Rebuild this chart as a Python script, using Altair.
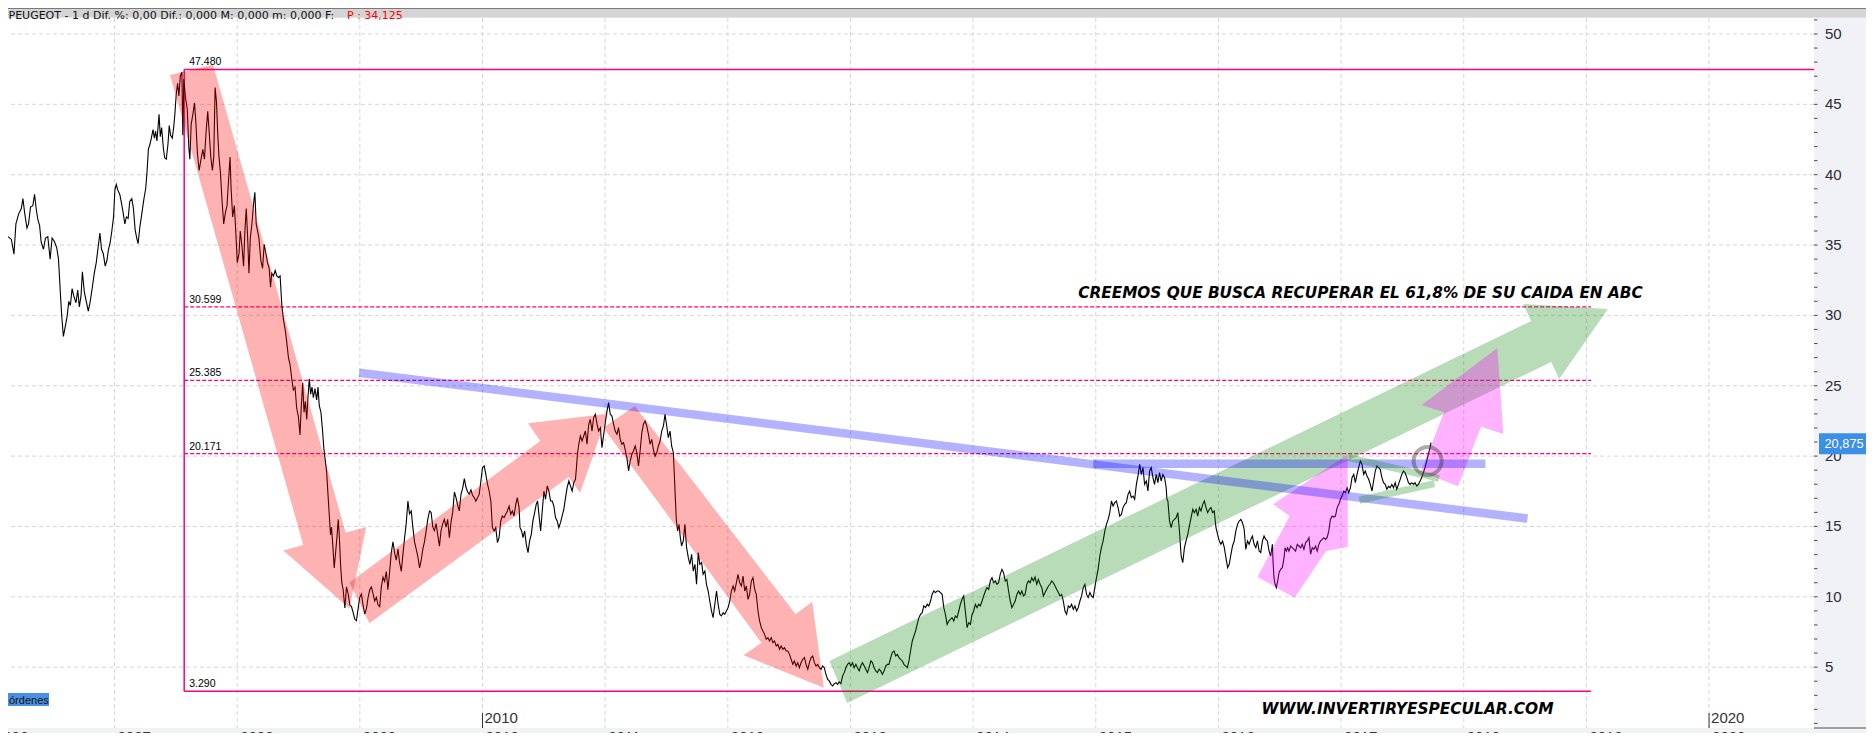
import altair as alt
import pandas as pd

# ---------------- price series: (fractional year, close) ----------------
prices_2006_2009 = [
    (2006.132, 35.6), (2006.159, 35.4), (2006.180, 34.35), (2006.196, 36.5), (2006.218, 37.2), (2006.240, 37.6),
    (2006.253, 38.3), (2006.267, 37.3), (2006.286, 36.2), (2006.299, 36.5), (2006.315, 37.7), (2006.334, 37.8),
    (2006.348, 38.6), (2006.361, 37.6), (2006.375, 36.8), (2006.389, 36.4), (2006.402, 35.2), (2006.421, 34.7),
    (2006.437, 35.5), (2006.456, 35.6), (2006.475, 34.0), (2006.491, 35.5), (2006.510, 35.25), (2006.529, 34.8),
    (2006.543, 34.0), (2006.551, 32.8), (2006.559, 31.5), (2006.570, 29.9), (2006.583, 28.5), (2006.597, 29.15),
    (2006.613, 29.9), (2006.627, 31.0), (2006.640, 30.7), (2006.654, 31.9), (2006.667, 31.4), (2006.686, 30.9),
    (2006.700, 31.8), (2006.713, 30.6), (2006.727, 31.4), (2006.738, 33.1), (2006.754, 31.65), (2006.767, 31.1),
    (2006.786, 30.3), (2006.802, 31.0), (2006.819, 32.0), (2006.835, 33.0), (2006.851, 33.75), (2006.867, 34.9),
    (2006.881, 35.85), (2006.894, 34.7), (2006.908, 34.4), (2006.924, 33.5), (2006.938, 33.9), (2006.951, 34.7),
    (2006.965, 35.2), (2006.978, 36.0), (2006.992, 37.0), (2007.003, 38.9), (2007.014, 39.3), (2007.027, 38.9),
    (2007.043, 38.6), (2007.057, 37.96), (2007.070, 37.3), (2007.084, 36.5), (2007.097, 37.0), (2007.111, 36.9),
    (2007.124, 38.1), (2007.141, 38.3), (2007.154, 37.6), (2007.168, 36.1), (2007.181, 35.5), (2007.192, 35.1),
    (2007.206, 36.25), (2007.219, 37.0), (2007.230, 37.7), (2007.241, 38.35), (2007.254, 39.0), (2007.265, 40.2),
    (2007.276, 41.8), (2007.290, 42.2), (2007.300, 42.6), (2007.314, 43.2), (2007.325, 42.6), (2007.335, 43.1),
    (2007.346, 42.4), (2007.363, 44.3), (2007.373, 42.7), (2007.384, 43.35), (2007.398, 41.9), (2007.409, 41.2),
    (2007.422, 41.1), (2007.436, 42.2), (2007.446, 43.5), (2007.457, 42.8), (2007.471, 42.6), (2007.482, 43.35),
    (2007.492, 44.3), (2007.503, 45.7), (2007.514, 46.5), (2007.525, 45.6), (2007.536, 47.0), (2007.549, 47.3),
    (2007.557, 42.8), (2007.565, 46.8), (2007.579, 45.45), (2007.593, 44.66), (2007.606, 41.9), (2007.614, 41.1),
    (2007.625, 43.6), (2007.639, 44.3), (2007.652, 45.1), (2007.663, 43.75), (2007.676, 41.5), (2007.690, 40.3),
    (2007.703, 41.0), (2007.720, 41.8), (2007.733, 41.1), (2007.747, 43.1), (2007.760, 44.5), (2007.771, 43.1),
    (2007.785, 41.25), (2007.798, 40.3), (2007.809, 41.25), (2007.820, 46.2), (2007.831, 45.2), (2007.842, 42.8),
    (2007.852, 41.25), (2007.863, 40.2), (2007.877, 38.1), (2007.890, 36.5), (2007.904, 37.3), (2007.917, 37.8),
    (2007.931, 39.8), (2007.942, 41.25), (2007.950, 39.1), (2007.963, 37.0), (2007.977, 37.8), (2007.990, 35.7),
    (2008.001, 33.75), (2008.015, 34.4), (2008.025, 36.0), (2008.039, 34.9), (2008.052, 33.5), (2008.063, 36.0),
    (2008.074, 37.6), (2008.085, 35.6), (2008.096, 33.0), (2008.107, 35.5), (2008.120, 36.5), (2008.134, 37.96),
    (2008.144, 38.75), (2008.155, 36.5), (2008.166, 36.0), (2008.177, 35.5), (2008.193, 33.9), (2008.207, 33.35),
    (2008.220, 35.05), (2008.234, 34.4), (2008.247, 33.75), (2008.261, 33.35), (2008.272, 32.0), (2008.282, 33.0),
    (2008.296, 32.8), (2008.310, 33.2), (2008.323, 32.8), (2008.337, 32.7), (2008.350, 32.8), (2008.364, 30.7),
    (2008.377, 29.7), (2008.393, 28.9), (2008.404, 28.1), (2008.418, 27.0), (2008.431, 26.5), (2008.445, 25.5),
    (2008.458, 24.7), (2008.472, 24.9), (2008.485, 23.4), (2008.499, 22.8), (2008.512, 21.5), (2008.523, 23.6),
    (2008.534, 25.2), (2008.545, 23.1), (2008.556, 23.9), (2008.567, 22.6), (2008.577, 24.15), (2008.588, 25.5),
    (2008.599, 24.4), (2008.610, 24.9), (2008.621, 24.15), (2008.634, 24.8), (2008.648, 24.0), (2008.659, 24.9),
    (2008.669, 23.6), (2008.683, 23.1), (2008.696, 21.8), (2008.707, 20.5), (2008.718, 19.7), (2008.729, 18.9),
    (2008.742, 17.05), (2008.753, 15.5), (2008.761, 14.4), (2008.769, 14.95), (2008.780, 13.6), (2008.791, 12.05),
    (2008.802, 13.1), (2008.813, 14.2), (2008.824, 15.5), (2008.832, 14.4), (2008.843, 12.3), (2008.853, 11.0),
    (2008.864, 10.5), (2008.878, 9.2), (2008.891, 10.7), (2008.905, 10.2), (2008.918, 9.43), (2008.932, 9.3),
    (2008.945, 8.9), (2008.959, 8.4), (2008.972, 8.3), (2008.986, 9.16), (2008.999, 9.95), (2009.013, 10.2),
    (2009.026, 9.43), (2009.040, 8.77), (2009.054, 9.16), (2009.067, 9.95), (2009.081, 10.5), (2009.094, 10.7),
    (2009.108, 10.2), (2009.121, 9.7), (2009.135, 9.95), (2009.148, 9.43), (2009.162, 9.3), (2009.175, 10.7),
    (2009.189, 11.4), (2009.202, 11.1), (2009.216, 11.8), (2009.229, 10.5), (2009.243, 11.8), (2009.256, 13.1),
    (2009.270, 13.9), (2009.284, 13.1), (2009.297, 12.6), (2009.311, 13.4), (2009.324, 12.45), (2009.338, 11.8),
    (2009.351, 13.0), (2009.365, 14.2), (2009.378, 15.2), (2009.392, 16.8), (2009.405, 15.9), (2009.419, 16.1),
    (2009.432, 14.95), (2009.446, 13.9), (2009.459, 13.4), (2009.473, 12.85), (2009.487, 12.05), (2009.500, 12.6),
    (2009.514, 13.4), (2009.527, 13.9), (2009.541, 14.7), (2009.554, 15.5), (2009.568, 16.1), (2009.581, 16.0),
    (2009.595, 14.95), (2009.608, 14.7), (2009.622, 15.2), (2009.635, 14.4), (2009.649, 13.6), (2009.662, 14.7),
    (2009.676, 15.2), (2009.689, 15.5), (2009.703, 14.95), (2009.716, 15.5), (2009.730, 14.2), (2009.744, 15.35),
    (2009.757, 16.0), (2009.771, 17.45), (2009.784, 17.05), (2009.798, 16.5), (2009.811, 16.1), (2009.825, 17.3),
    (2009.838, 17.7), (2009.852, 18.4), (2009.865, 17.8), (2009.879, 17.45), (2009.892, 17.3), (2009.906, 17.6),
    (2009.919, 17.2), (2009.933, 17.05), (2009.946, 16.8),
]
prices_2010_2013 = [
    (2009.973, 17.28), (2009.987, 18.23), (2010.000, 19.18), (2010.014, 19.3), (2010.027, 18.7), (2010.041, 18.0),
    (2010.054, 17.52), (2010.068, 16.81), (2010.081, 14.91), (2010.095, 14.68), (2010.108, 14.91), (2010.122, 13.85),
    (2010.135, 14.2), (2010.149, 15.39), (2010.162, 15.74), (2010.176, 15.63), (2010.189, 15.86), (2010.203, 16.1),
    (2010.217, 16.45), (2010.230, 15.86), (2010.244, 16.1), (2010.257, 15.74), (2010.271, 16.57), (2010.284, 17.05),
    (2010.298, 16.34), (2010.306, 14.91), (2010.319, 14.68), (2010.330, 14.2), (2010.344, 14.68), (2010.357, 13.73),
    (2010.371, 13.14), (2010.384, 13.97), (2010.398, 14.44), (2010.411, 15.39), (2010.425, 15.98), (2010.438, 16.57),
    (2010.449, 16.81), (2010.460, 15.86), (2010.474, 14.68), (2010.487, 16.1), (2010.501, 17.52), (2010.514, 16.93),
    (2010.528, 17.88), (2010.541, 17.52), (2010.555, 16.81), (2010.568, 16.81), (2010.582, 16.45), (2010.595, 15.63),
    (2010.609, 15.39), (2010.622, 14.91), (2010.636, 15.27), (2010.649, 15.74), (2010.663, 16.22), (2010.677, 17.05),
    (2010.690, 17.76), (2010.704, 18.23), (2010.717, 17.88), (2010.731, 17.52), (2010.744, 18.11), (2010.758, 18.35),
    (2010.766, 19.18), (2010.774, 20.13), (2010.785, 20.84), (2010.798, 21.43), (2010.812, 21.07), (2010.825, 21.43),
    (2010.839, 21.78), (2010.852, 20.84), (2010.866, 22.26), (2010.879, 22.61), (2010.893, 21.78), (2010.906, 22.73),
    (2010.920, 22.97), (2010.934, 22.26), (2010.947, 21.78), (2010.961, 22.02), (2010.974, 20.6), (2010.988, 21.55),
    (2011.001, 22.38), (2011.015, 23.2), (2011.028, 23.8), (2011.042, 22.97), (2011.055, 22.85), (2011.069, 22.26),
    (2011.082, 21.78), (2011.096, 21.55), (2011.109, 22.02), (2011.123, 21.19), (2011.136, 20.84), (2011.150, 20.96),
    (2011.163, 20.48), (2011.177, 19.89), (2011.191, 18.94), (2011.204, 19.65), (2011.218, 20.13), (2011.231, 20.36),
    (2011.245, 20.72), (2011.258, 20.24), (2011.272, 19.3), (2011.285, 20.36), (2011.299, 21.67), (2011.312, 22.26),
    (2011.326, 22.5), (2011.339, 22.14), (2011.353, 21.55), (2011.366, 20.84), (2011.380, 21.19), (2011.393, 20.48),
    (2011.407, 20.0), (2011.421, 20.24), (2011.434, 20.72), (2011.448, 21.07), (2011.461, 21.78), (2011.475, 22.14),
    (2011.488, 22.97), (2011.502, 22.14), (2011.515, 21.31), (2011.529, 21.78), (2011.542, 20.72), (2011.556, 20.24),
    (2011.564, 18.7), (2011.572, 17.05), (2011.580, 15.51), (2011.591, 14.68), (2011.602, 15.15), (2011.613, 14.2),
    (2011.623, 13.61), (2011.637, 13.97), (2011.650, 15.15), (2011.664, 13.49), (2011.678, 12.78), (2011.691, 12.31),
    (2011.705, 13.02), (2011.718, 11.83), (2011.732, 12.31), (2011.745, 10.89), (2011.759, 13.14), (2011.772, 12.31),
    (2011.786, 12.43), (2011.799, 11.6), (2011.813, 11.83), (2011.826, 10.89), (2011.840, 10.41), (2011.853, 9.7),
    (2011.867, 8.99), (2011.880, 8.52), (2011.894, 9.47), (2011.908, 10.41), (2011.921, 9.47), (2011.935, 8.75),
    (2011.948, 8.64), (2011.962, 8.87), (2011.975, 8.75), (2011.989, 8.99), (2012.002, 9.23), (2012.016, 9.7),
    (2012.029, 10.41), (2012.043, 10.77), (2012.056, 10.41), (2012.070, 11.0), (2012.083, 11.6), (2012.097, 11.0),
    (2012.111, 10.77), (2012.124, 11.48), (2012.138, 10.41), (2012.151, 10.77), (2012.165, 9.82), (2012.178, 10.18),
    (2012.192, 11.12), (2012.205, 11.36), (2012.219, 10.53), (2012.232, 10.18), (2012.246, 8.99), (2012.259, 8.28),
    (2012.273, 7.81), (2012.286, 7.57), (2012.300, 7.33), (2012.313, 6.98), (2012.327, 7.1), (2012.340, 6.86),
    (2012.354, 7.1), (2012.368, 6.74), (2012.381, 6.86), (2012.395, 6.5), (2012.408, 6.62), (2012.422, 6.27),
    (2012.435, 6.5), (2012.449, 6.27), (2012.462, 6.38), (2012.476, 6.15), (2012.489, 6.15), (2012.503, 5.91),
    (2012.516, 5.56), (2012.530, 5.2), (2012.543, 5.44), (2012.557, 5.08), (2012.570, 5.32), (2012.584, 4.96),
    (2012.597, 5.32), (2012.611, 5.56), (2012.625, 5.68), (2012.638, 5.2), (2012.652, 4.85), (2012.665, 5.32),
    (2012.679, 5.68), (2012.692, 5.79), (2012.706, 5.32), (2012.719, 5.08), (2012.733, 5.2), (2012.746, 4.96),
    (2012.760, 4.85), (2012.773, 5.08), (2012.787, 4.96), (2012.800, 4.49), (2012.814, 4.13), (2012.827, 4.02),
    (2012.841, 3.78), (2012.855, 3.66), (2012.868, 3.83), (2012.882, 3.9), (2012.895, 3.78), (2012.909, 3.95),
    (2012.922, 3.83), (2012.936, 4.37), (2012.949, 4.61), (2012.963, 4.96), (2012.976, 5.2), (2012.990, 5.32),
    (2013.003, 5.08), (2013.017, 5.32), (2013.030, 4.96), (2013.044, 5.2), (2013.057, 4.96), (2013.071, 4.73),
    (2013.084, 5.08), (2013.098, 5.32), (2013.112, 5.08), (2013.125, 4.85), (2013.139, 4.61), (2013.152, 4.96),
    (2013.166, 5.44), (2013.179, 5.32), (2013.193, 4.96), (2013.206, 4.73), (2013.220, 4.61), (2013.233, 4.85),
    (2013.247, 4.73), (2013.260, 4.49), (2013.274, 4.73), (2013.287, 5.08), (2013.301, 5.2), (2013.314, 5.2),
    (2013.328, 5.68), (2013.341, 6.03), (2013.355, 6.15), (2013.369, 5.79), (2013.382, 5.91), (2013.396, 5.68),
    (2013.409, 5.56), (2013.423, 5.44), (2013.436, 5.2), (2013.450, 5.08), (2013.463, 4.96), (2013.477, 5.44),
    (2013.490, 6.15), (2013.504, 6.86), (2013.517, 7.21), (2013.531, 7.57), (2013.544, 8.04), (2013.558, 8.52),
    (2013.571, 8.75), (2013.585, 8.87), (2013.598, 9.35), (2013.612, 9.23), (2013.626, 9.47), (2013.639, 9.35),
    (2013.653, 9.7), (2013.666, 10.18), (2013.680, 10.41), (2013.693, 10.3), (2013.707, 10.41), (2013.720, 10.41),
    (2013.734, 10.3), (2013.747, 10.18), (2013.761, 9.23), (2013.774, 8.75), (2013.788, 8.04), (2013.801, 8.28),
    (2013.815, 8.4), (2013.828, 8.52), (2013.842, 8.28), (2013.855, 8.64), (2013.869, 8.52), (2013.883, 8.99),
    (2013.896, 9.47), (2013.910, 9.82), (2013.923, 10.06),
]
prices_2014_2017 = [
    (2013.951, 7.81), (2013.964, 8.16), (2013.978, 8.04), (2013.991, 8.75), (2014.005, 8.99), (2014.018, 9.47),
    (2014.032, 9.23), (2014.045, 9.47), (2014.059, 9.35), (2014.073, 9.7), (2014.086, 10.06), (2014.100, 10.41),
    (2014.113, 10.65), (2014.127, 10.53), (2014.140, 11.12), (2014.154, 11.36), (2014.167, 11.0), (2014.181, 11.12),
    (2014.194, 10.89), (2014.208, 11.0), (2014.221, 11.6), (2014.235, 11.95), (2014.248, 11.71), (2014.262, 11.12),
    (2014.275, 11.24), (2014.289, 10.41), (2014.303, 9.7), (2014.316, 9.23), (2014.330, 9.47), (2014.343, 9.7),
    (2014.357, 10.17), (2014.370, 10.41), (2014.384, 10.17), (2014.397, 10.41), (2014.411, 10.06), (2014.424, 10.17),
    (2014.438, 10.89), (2014.451, 11.12), (2014.465, 11.0), (2014.478, 11.36), (2014.492, 11.12), (2014.505, 11.4),
    (2014.519, 10.89), (2014.532, 11.24), (2014.546, 10.89), (2014.560, 10.65), (2014.573, 10.06), (2014.587, 10.3),
    (2014.600, 10.53), (2014.614, 10.77), (2014.627, 10.89), (2014.641, 11.12), (2014.654, 11.0), (2014.668, 10.77),
    (2014.681, 10.53), (2014.695, 10.3), (2014.708, 10.06), (2014.722, 10.17), (2014.735, 9.7), (2014.749, 8.99),
    (2014.762, 8.75), (2014.776, 9.35), (2014.789, 9.23), (2014.803, 9.47), (2014.817, 9.11), (2014.830, 9.35),
    (2014.844, 8.99), (2014.857, 9.23), (2014.871, 9.7), (2014.884, 10.06), (2014.898, 10.65), (2014.911, 10.89),
    (2014.925, 10.17), (2014.938, 9.94), (2014.952, 10.3), (2014.965, 10.06), (2014.979, 9.94), (2014.992, 10.65),
    (2015.006, 11.36), (2015.019, 11.95), (2015.033, 12.9), (2015.046, 13.49), (2015.060, 13.97), (2015.074, 14.68),
    (2015.087, 15.15), (2015.101, 15.5), (2015.114, 15.98), (2015.128, 16.81), (2015.141, 16.45), (2015.155, 16.69),
    (2015.168, 16.81), (2015.182, 16.34), (2015.195, 15.74), (2015.209, 15.86), (2015.222, 16.34), (2015.236, 16.57),
    (2015.249, 16.69), (2015.263, 17.28), (2015.276, 17.52), (2015.290, 17.05), (2015.304, 17.16), (2015.317, 16.93),
    (2015.331, 17.99), (2015.344, 18.59), (2015.358, 19.42), (2015.371, 18.7), (2015.385, 19.18), (2015.398, 17.99),
    (2015.412, 18.23), (2015.425, 17.52), (2015.439, 18.94), (2015.452, 19.18), (2015.466, 18.47), (2015.479, 17.99),
    (2015.493, 18.7), (2015.506, 18.11), (2015.520, 18.82), (2015.533, 18.23), (2015.547, 18.7), (2015.561, 18.47),
    (2015.574, 17.75), (2015.580, 16.93), (2015.588, 16.81), (2015.601, 15.39), (2015.615, 14.91), (2015.628, 15.39),
    (2015.642, 15.5), (2015.655, 15.62), (2015.669, 15.98), (2015.682, 14.68), (2015.696, 12.9), (2015.709, 12.43),
    (2015.723, 13.49), (2015.736, 13.97), (2015.750, 14.44), (2015.763, 15.03), (2015.777, 15.62), (2015.791, 16.22),
    (2015.804, 15.98), (2015.818, 16.22), (2015.831, 15.74), (2015.845, 16.34), (2015.858, 16.1), (2015.872, 16.57),
    (2015.885, 16.81), (2015.899, 16.34), (2015.912, 15.98), (2015.926, 16.22), (2015.939, 16.34), (2015.953, 15.98),
    (2015.966, 16.1), (2015.980, 14.91), (2015.993, 14.44), (2016.007, 13.97), (2016.020, 13.73), (2016.034, 13.97),
    (2016.048, 13.49), (2016.061, 12.78), (2016.075, 12.07), (2016.088, 12.31), (2016.102, 13.02), (2016.115, 13.61),
    (2016.129, 13.97), (2016.142, 14.68), (2016.156, 15.15), (2016.169, 15.39), (2016.183, 15.5), (2016.196, 15.27),
    (2016.210, 14.8), (2016.223, 13.37), (2016.237, 13.97), (2016.250, 13.73), (2016.264, 14.08), (2016.277, 14.32),
    (2016.291, 13.73), (2016.305, 13.49), (2016.318, 13.97), (2016.332, 13.25), (2016.345, 13.14), (2016.359, 13.97),
    (2016.372, 14.32), (2016.386, 14.08), (2016.399, 13.97), (2016.413, 13.25), (2016.426, 12.9), (2016.440, 13.73),
    (2016.445, 12.55), (2016.453, 11.36), (2016.462, 10.89), (2016.472, 10.65), (2016.483, 11.12), (2016.494, 11.71),
    (2016.507, 11.95), (2016.521, 12.07), (2016.535, 12.78), (2016.543, 13.49), (2016.554, 13.25), (2016.564, 13.49),
    (2016.575, 13.25), (2016.589, 13.61), (2016.602, 13.49), (2016.616, 13.37), (2016.629, 13.25), (2016.643, 13.73),
    (2016.656, 13.61), (2016.670, 13.49), (2016.683, 13.73), (2016.697, 13.37), (2016.711, 13.85), (2016.724, 13.97),
    (2016.738, 14.2), (2016.751, 13.02), (2016.765, 13.49), (2016.778, 13.37), (2016.792, 13.61), (2016.805, 13.25),
    (2016.819, 13.73), (2016.832, 13.97), (2016.846, 14.08), (2016.859, 14.2), (2016.873, 14.08), (2016.886, 14.2),
    (2016.900, 14.68), (2016.913, 15.5), (2016.927, 15.74), (2016.940, 15.67), (2016.954, 15.74), (2016.968, 16.34),
    (2016.981, 16.57), (2016.995, 16.93), (2017.008, 17.16), (2017.022, 17.52), (2017.035, 17.4), (2017.049, 17.75),
    (2017.062, 17.4), (2017.076, 17.75), (2017.089, 18.47), (2017.103, 18.7), (2017.116, 18.11), (2017.130, 18.7),
    (2017.143, 19.18), (2017.157, 19.65), (2017.170, 19.42), (2017.184, 18.7), (2017.197, 18.94), (2017.211, 18.59),
    (2017.225, 18.35), (2017.238, 17.99), (2017.252, 17.52), (2017.265, 18.23), (2017.279, 18.94), (2017.292, 19.3),
    (2017.306, 19.18), (2017.319, 19.06), (2017.333, 18.47), (2017.346, 18.11), (2017.360, 17.99), (2017.373, 17.64),
    (2017.387, 17.87), (2017.400, 17.75), (2017.414, 17.99), (2017.427, 17.75), (2017.441, 18.11), (2017.454, 17.64),
    (2017.468, 17.99), (2017.482, 18.35), (2017.495, 18.7), (2017.509, 18.94), (2017.522, 18.82), (2017.536, 18.47),
    (2017.549, 18.11), (2017.563, 17.99), (2017.576, 18.11), (2017.590, 17.99), (2017.603, 18.11), (2017.617, 17.87),
    (2017.630, 17.99), (2017.644, 18.23), (2017.657, 18.47), (2017.671, 18.82), (2017.684, 19.18), (2017.698, 19.65),
    (2017.711, 20.13), (2017.725, 20.6), (2017.733, 20.95),
]

# ---------------- axes / grid ----------------
year_ticks = list(range(2007, 2021))
year_labels = list(range(2006, 2021))
price_ticks = list(range(5, 51, 5))
minor_price_ticks = list(range(1, 52))
decade_years = [2010, 2020]
X_DOMAIN = [2006.1315, 2020.8556]
Y_DOMAIN = [0.675, 51.137]

# ---------------- Fibonacci retracement ----------------
fib_levels = [47.48, 30.599, 25.385, 20.171, 3.29]
fib_labels = ["47.480", "30.599", "25.385", "20.171", "3.290"]
fib_dashed = [False, True, True, True, False]
fib_start_year = 2007.568
fib_end_years = [2020.856, 2019.037, 2019.037, 2019.037, 2019.037]

# ---------------- drawn annotations (vertices in year / price) ----------------
red_arrows = [
    [(2007.452, 47.09), (2007.803, 47.82), (2008.884, 14.56), (2009.052, 14.96), (2008.916, 9.17), (2008.376, 13.29), (2008.539, 13.68)],
    [(2008.916, 11.01), (2010.471, 21.07), (2010.371, 22.33), (2011.020, 23.01), (2010.796, 17.40), (2010.701, 18.51), (2009.078, 8.12)],
    [(2010.985, 22.02), (2011.242, 23.56), (2012.553, 8.76), (2012.688, 9.65), (2012.783, 3.54), (2012.128, 5.84), (2012.274, 6.74)],
]
green_arrows = [
    [(2012.828, 5.44), (2018.550, 29.60), (2018.485, 30.81), (2019.175, 30.45), (2018.778, 25.48), (2018.713, 26.69), (2012.974, 2.45)],
]
magenta_arrows = [
    [(2016.319, 11.41), (2016.581, 15.74), (2016.446, 16.57), (2017.054, 20.13), (2017.054, 13.54), (2016.878, 13.25), (2016.621, 9.94)],
    [(2017.651, 18.89), (2017.839, 23.12), (2017.657, 23.63), (2018.274, 27.68), (2018.323, 21.57), (2018.141, 22.08), (2017.953, 17.85)],
]
blue_lines = [
    [(2008.994, 25.93), (2018.520, 15.56)],
    [(2014.979, 19.46), (2018.177, 19.46)],
]
green_lines = [
    [(2017.062, 19.89), (2017.798, 18.42)],
    [(2017.149, 16.86), (2017.761, 18.04)],
]
circle_year, circle_price = 2017.706, 19.65
last_price = 20.875
last_price_text = "20,875"

header_text = "PEUGEOT -  1 d Dif. %: 0,00 Dif.: 0,000 M: 0,000 m: 0,000 F:"
header_red = "P : 34,125"
note_text = "CREEMOS QUE BUSCA RECUPERAR EL 61,8% DE SU CAIDA EN ABC"
note_pos = (2014.857, 31.24)
web_text = "WWW.INVERTIRYESPECULAR.COM"
web_pos = (2016.351, 1.69)

# ---------------- frames ----------------
price_df = pd.DataFrame(prices_2006_2009 + prices_2010_2013 + prices_2014_2017, columns=["year", "price"])


def poly_frame(polys):
    rows = []
    for k, poly in enumerate(polys):
        for i, (yr, v) in enumerate(poly):
            rows.append({"shape": k, "idx": i, "year": yr, "price": v})
    return pd.DataFrame(rows)


fib_df = pd.DataFrame({"level": fib_levels, "label": fib_labels, "dashed": fib_dashed,
                       "x0": [fib_start_year] * len(fib_levels), "x1": fib_end_years})
one = pd.DataFrame({"k": [0]})

W, H = 1806, 710
TOTAL_W = 1858
xs = alt.Scale(domain=X_DOMAIN, nice=False, zero=False)
ys = alt.Scale(domain=Y_DOMAIN, nice=False, zero=False)


def X(field="year"):
    return alt.X(f"{field}:Q", scale=xs, axis=None)


def Y(field="price"):
    return alt.Y(f"{field}:Q", scale=ys, axis=None)


FIB = "#ff0080"
GRID = "#d6d6d6"
AX = "#4d4d4d"
LABEL = "#2b2b3b"

header_bg = alt.Chart(one).mark_rect(color="#d4d4d4").encode(
    x=alt.value(0), x2=alt.value(TOTAL_W), y=alt.value(-10), y2=alt.value(-0.5))
header_line = alt.Chart(one).mark_rule(color="#7a7a7a", strokeWidth=1).encode(
    x=alt.value(0), x2=alt.value(TOTAL_W), y=alt.value(-9.5))
header_t1 = alt.Chart(one).mark_text(text=header_text, align="left", baseline="alphabetic",
                                     font="DejaVu Sans", fontSize=11, color="#111111").encode(
    x=alt.value(0.5), y=alt.value(0.5))
header_t2 = alt.Chart(one).mark_text(text=header_red, align="left", baseline="alphabetic",
                                     font="DejaVu Sans", fontSize=11, color="#ff0000").encode(
    x=alt.value(339), y=alt.value(0.5))

vgrid = alt.Chart(pd.DataFrame({"year": year_ticks})).mark_rule(
    color=GRID, strokeDash=[4, 3], strokeWidth=1).encode(x=X())
hgrid = alt.Chart(pd.DataFrame({"price": price_ticks})).mark_rule(
    color=GRID, strokeDash=[4, 3], strokeWidth=1).encode(y=Y())

fib_solid = alt.Chart(fib_df[~fib_df["dashed"]]).mark_rule(color=FIB, strokeWidth=1.5).encode(
    x=X("x0"), x2="x1:Q", y=Y("level"))
fib_dash = alt.Chart(fib_df[fib_df["dashed"]]).mark_rule(color=FIB, strokeWidth=1.2, strokeDash=[4, 2]).encode(
    x=X("x0"), x2="x1:Q", y=Y("level"))
fib_vert = alt.Chart(one).mark_rule(color=FIB, strokeWidth=1.5).encode(
    x=alt.X("a:Q", scale=xs, axis=None), y=alt.Y("b:Q", scale=ys, axis=None), y2="c:Q"
).transform_calculate(a=str(fib_start_year), b=str(min(fib_levels)), c=str(max(fib_levels)))
fib_text = alt.Chart(fib_df).mark_text(align="left", baseline="bottom", dx=5, dy=-2,
                                       font="Liberation Sans", fontSize=10.5, color="#000000").encode(
    x=X("x0"), y=Y("level"), text="label:N")

price_line = alt.Chart(price_df).mark_line(color="#000000", strokeWidth=1.1).encode(
    x=alt.X("year:Q", scale=xs, axis=alt.Axis(
        values=year_ticks, grid=False, tickSize=5, labels=False, domainColor=AX, tickColor=AX,
        title=None, zindex=1)),
    y=alt.Y("price:Q", scale=ys, axis=alt.Axis(
        orient="right", values=price_ticks, grid=False, tickSize=6, labels=False, domainColor=AX,
        tickColor=AX, title=None, zindex=1)),
)

# tick labels, placed through the same scales
ylab_df = pd.DataFrame({"price": price_ticks, "t": [str(v) for v in price_ticks]})
ylabels = alt.Chart(ylab_df).mark_text(align="left", baseline="middle", font="Liberation Sans",
                                       fontSize=15, color=LABEL).encode(
    x=alt.value(W + 11), y=Y(), text="t:N")
xlab_df = pd.DataFrame({"year": year_labels, "t": [str(v) for v in year_labels]})
xlabels = alt.Chart(xlab_df).mark_text(align="left", baseline="top", dx=3, font="Liberation Sans",
                                       fontSize=15, color="#333333").encode(
    x=X(), y=alt.value(H + 1.5), text="t:N")


def polygons(polys, color, op):
    return alt.Chart(poly_frame(polys)).mark_line(
        interpolate="linear-closed", fill=color, fillOpacity=op, stroke=color, strokeOpacity=0, strokeWidth=0
    ).encode(x=X(), y=Y(), detail="shape:N", order="idx:Q")


red_layer = polygons(red_arrows, "#ff0000", 0.3)
green_layer = polygons(green_arrows, "#008000", 0.28)
magenta_layer = polygons(magenta_arrows, "#ff00ff", 0.3)

blue_layer = alt.Chart(poly_frame(blue_lines)).mark_line(
    color="#0000ff", strokeWidth=8.5, opacity=0.3, strokeCap="butt").encode(
    x=X(), y=Y(), detail="shape:N", order="idx:Q")
green_line_layer = alt.Chart(poly_frame(green_lines)).mark_line(
    color="#008000", strokeWidth=7, opacity=0.28, strokeCap="butt").encode(
    x=X(), y=Y(), detail="shape:N", order="idx:Q")

circle_layer = alt.Chart(pd.DataFrame({"year": [circle_year], "price": [circle_price]})).mark_point(
    shape="circle", size=784, filled=False, stroke="#3a3a3a", strokeWidth=4, strokeOpacity=0.6).encode(x=X(), y=Y())

note_layer = alt.Chart(pd.DataFrame({"year": [note_pos[0]], "price": [note_pos[1]], "t": [note_text]})).mark_text(
    align="left", baseline="alphabetic", font="DejaVu Sans", fontSize=15.3, fontWeight="bold",
    fontStyle="italic", color="#000000").encode(x=X(), y=Y(), text="t:N")
web_layer = alt.Chart(pd.DataFrame({"year": [web_pos[0]], "price": [web_pos[1]], "t": [web_text]})).mark_text(
    align="left", baseline="alphabetic", font="DejaVu Sans", fontSize=15.4, fontWeight="bold",
    fontStyle="italic", color="#000000").encode(x=X(), y=Y(), text="t:N")

minor_ticks = alt.Chart(pd.DataFrame({"price": minor_price_ticks})).mark_rule(color=AX, strokeWidth=1).encode(
    x=alt.value(W), x2=alt.value(W + 3.5), y=Y())
bottom_ext = alt.Chart(one).mark_rule(color=AX, strokeWidth=1).encode(
    x=alt.value(W), x2=alt.value(TOTAL_W), y=alt.value(H))

decade_df = pd.DataFrame({"year": decade_years, "t": [str(d) for d in decade_years]})
decade_ticks = alt.Chart(decade_df).mark_rule(color="#333333", strokeWidth=1).encode(
    x=X(), y=alt.value(H - 15), y2=alt.value(H))
decade_text = alt.Chart(decade_df).mark_text(align="left", baseline="alphabetic", dx=2,
                                             font="Liberation Sans", fontSize=15, color="#333333").encode(
    x=X(), y=alt.value(H - 5), text="t:N")

ordenes_box = alt.Chart(one).mark_rect(color="#4a90e2").encode(
    x=alt.value(0), x2=alt.value(41), y=alt.value(675), y2=alt.value(688))
ordenes_text = alt.Chart(one).mark_text(text="órdenes", align="left", baseline="alphabetic",
                                        font="Liberation Sans", fontSize=11, color="#111111").encode(
    x=alt.value(1), y=alt.value(685.5))

lp_df = pd.DataFrame({"lo": [last_price - 0.745], "hi": [last_price + 0.745], "price": [last_price], "t": [last_price_text]})
lp_box = alt.Chart(lp_df).mark_rect(color="#3b8fe5").encode(
    x=alt.value(W + 5), x2=alt.value(TOTAL_W), y=Y("lo"), y2="hi:Q")
lp_text = alt.Chart(lp_df).mark_text(align="left", baseline="middle", font="Liberation Sans",
                                     fontSize=12.8, color="#ffffff").encode(
    x=alt.value(W + 10.5), y=Y(), text="t:N")

chart = alt.layer(
    header_bg, header_line, header_t1, header_t2,
    vgrid, hgrid, fib_solid, fib_dash, fib_vert, fib_text,
    price_line, red_layer, green_layer, magenta_layer, blue_layer, green_line_layer, circle_layer,
    note_layer, web_layer, minor_ticks, bottom_ext, decade_ticks, decade_text,
    ylabels, xlabels, ordenes_box, ordenes_text, lp_box, lp_text,
).properties(
    width=W, height=H,
    padding={"left": 0, "top": 10, "right": TOTAL_W - W, "bottom": 5},
    autosize=alt.AutoSizeParams(type="none"),
    background="#f1f2f5",
).configure_view(strokeWidth=0, fill="#ffffff")

chart.save("out.html", embed_options={"renderer": "svg", "actions": False})
